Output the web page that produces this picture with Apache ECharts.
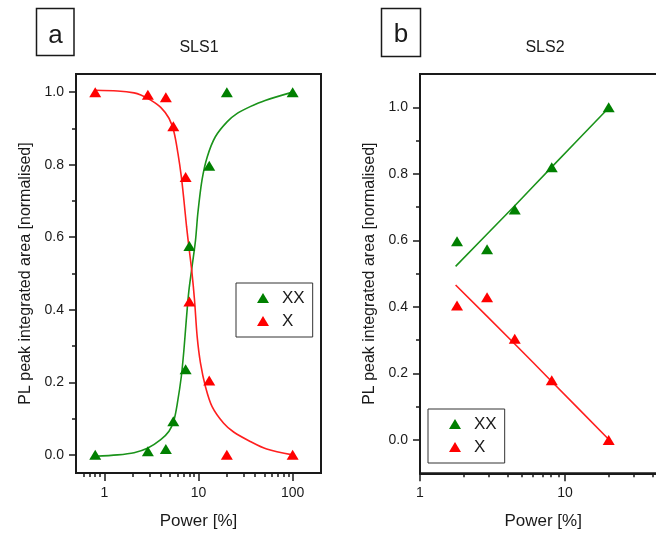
<!DOCTYPE html>
<html>
<head>
<meta charset="utf-8">
<script src="https://cdn.jsdelivr.net/npm/echarts@6/dist/echarts.min.js"></script>
<style>html,body{margin:0;padding:0;background:#fff;}#main{width:656px;height:533px;}</style>
</head>
<body>
<div id="main"></div>
<script>
// ---------- Panel a (SLS1) measured points ----------
const powerA = [0.8, 2.9, 4.5, 5.4, 7.3, 8.0, 13, 20, 100];
const xxA    = [0.0, 0.01, 0.016, 0.093, 0.236, 0.576, 0.797, 1.0, 1.0];
const xA     = [1.0, 0.993, 0.986, 0.906, 0.766, 0.423, 0.205, 0.0, 0.0];

// Panel a fitted curves
const fitXXA_power = [0.8, 1.38, 2.07, 2.87, 3.97, 4.86, 5.49, 5.96, 6.57, 7.0, 7.42, 7.9, 8.5, 9.3, 9.84, 10.9, 12.4, 15.1, 20.1, 26, 35.4, 51, 100];
const fitXXA_value = [-0.004, 0.0, 0.006, 0.018, 0.042, 0.065, 0.096, 0.142, 0.216, 0.289, 0.372, 0.452, 0.515, 0.592, 0.666, 0.758, 0.822, 0.877, 0.918, 0.942, 0.96, 0.977, 1.0];
const fitXA_power = [0.8, 1.38, 2.07, 2.44, 3.11, 3.97, 4.86, 5.49, 6.05, 6.57, 7.0, 7.47, 7.98, 8.5, 9.07, 9.68, 10.5, 11.86, 13.95, 18.5, 23.6, 35.4, 53, 100];
const fitXA_value = [1.005, 1.003, 0.998, 0.992, 0.978, 0.958, 0.928, 0.89, 0.831, 0.767, 0.702, 0.629, 0.565, 0.505, 0.427, 0.326, 0.253, 0.188, 0.133, 0.087, 0.063, 0.037, 0.016, 0.0];

// ---------- Panel b (SLS2) measured points ----------
const powerB = [1.8, 2.9, 4.5, 8.1, 20];
const xxB    = [0.597, 0.573, 0.693, 0.820, 1.0];
const xB     = [0.404, 0.429, 0.304, 0.180, 0.0];

// Panel b fitted lines
const fitB_power = [1.76, 4.52, 8.09, 20.2];
const fitXXB_value = [0.522, 0.705, 0.82, 1.0];
const fitXB_value  = [0.466, 0.288, 0.176, 0.0];

// ---------- Tick labels ----------
const xMajorA = [1, 10, 100];
const xMinorA = [0.6, 0.7, 0.8, 0.9, 2, 3, 4, 5, 6, 7, 8, 9, 20, 30, 40, 50, 60, 70, 80, 90];
const xMajorB = [1, 10];
const xMinorB = [2, 3, 4, 5, 6, 7, 8, 9, 20, 30, 40, 50];
const yMajor = [0, 0.2, 0.4, 0.6, 0.8, 1.0];
const yMinor = [0.1, 0.3, 0.5, 0.7, 0.9];

const INK = '#1a1a1a';
const GREEN = '#008000';
const RED = '#ff0000';
const GREEN_LINE = '#1a931a';
const RED_LINE = '#ff1f1f';
const FONT = 'Liberation Sans';

function pairs(xs, ys) { return xs.map((x, i) => [x, ys[i]]); }
const lg = Math.log10;

function mainX(grid, min, max, majors) {
  return {
    type: 'log', gridIndex: grid, min: min, max: max, position: 'bottom',
    axisLine: { show: true, onZero: false, lineStyle: { color: INK, width: 2 } },
    axisTick: { show: false },
    splitLine: { show: false },
    axisLabel: {
      margin: 13, fontSize: 14, fontFamily: FONT, color: INK,
      formatter: v => (majors.indexOf(Math.round(v * 1000) / 1000) >= 0 ? String(Math.round(v)) : '')
    },
    name: 'Power [%]', nameLocation: 'middle', nameGap: 40,
    nameTextStyle: { fontSize: 17, fontFamily: FONT, color: INK }
  };
}
function tickX(grid, min, max, values, len) {
  return {
    type: 'value', gridIndex: grid, min: lg(min), max: lg(max), position: 'bottom',
    axisLine: { show: false, onZero: false },
    axisLabel: { show: false },
    splitLine: { show: false },
    axisTick: { show: true, length: len, customValues: values.map(lg), lineStyle: { color: INK, width: 1.5 } }
  };
}
function mainY(grid, min, max) {
  return {
    type: 'value', gridIndex: grid, min: min, max: max, position: 'left',
    axisLine: { show: true, onZero: false, lineStyle: { color: INK, width: 2 } },
    splitLine: { show: false },
    axisTick: { show: true, length: 7, customValues: yMajor, lineStyle: { color: INK, width: 1.5 } },
    axisLabel: { customValues: yMajor, margin: 12, fontSize: 14, fontFamily: FONT, color: INK, formatter: v => v.toFixed(1) },
    name: 'PL peak integrated area [normalised]', nameLocation: 'middle', nameGap: 42,
    nameTextStyle: { fontSize: 16, fontFamily: FONT, color: INK }
  };
}
function minorY(grid, min, max) {
  return {
    type: 'value', gridIndex: grid, min: min, max: max, position: 'left',
    axisLine: { show: false, onZero: false },
    axisLabel: { show: false },
    splitLine: { show: false },
    axisTick: { show: true, length: 4, customValues: yMinor, lineStyle: { color: INK, width: 1.5 } }
  };
}
function fitLine(name, xi, yi, data, color, smooth) {
  return { type: 'line', name: name, xAxisIndex: xi, yAxisIndex: yi, data: data, smooth: smooth,
    showSymbol: false, symbol: 'none', lineStyle: { color: color, width: 1.6 }, z: 2, silent: true };
}
function points(name, xi, yi, data, color) {
  return { type: 'scatter', name: name, xAxisIndex: xi, yAxisIndex: yi, data: data,
    symbol: 'triangle', symbolSize: [12, 10], itemStyle: { color: color, opacity: 1 }, z: 3 };
}
function legend(left, top) {
  return {
    data: ['XX', 'X'], left: left, top: top, orient: 'vertical', icon: 'triangle',
    itemWidth: 12, itemHeight: 10, itemGap: 3, selectedMode: false,
    borderColor: '#333', borderWidth: 1, borderRadius: 0, padding: [5, 8, 6, 21],
    textStyle: { fontSize: 17, fontFamily: FONT, color: INK, lineHeight: 20, padding: [0, 0, 0, 8] }
  };
}

const chart = echarts.init(document.getElementById('main'), null, { renderer: 'canvas' });
chart.setOption({
  animation: false,
  backgroundColor: '#fff',
  grid: [
    { left: 76, top: 74, width: 245, height: 399, show: true, borderColor: INK, borderWidth: 2, containLabel: false, outerBoundsMode: 'none' },
    { left: 420, top: 74, width: 246.4, height: 399.3, show: true, borderColor: INK, borderWidth: 2, containLabel: false, outerBoundsMode: 'none' }
  ],
  xAxis: [
    mainX(0, 0.5, 200, xMajorA),
    tickX(0, 0.5, 200, xMajorA, 8),
    tickX(0, 0.5, 200, xMinorA, 4),
    mainX(1, 1, 50, xMajorB),
    tickX(1, 1, 50, xMajorB, 8),
    tickX(1, 1, 50, xMinorB, 4)
  ],
  yAxis: [
    mainY(0, -0.05, 1.05),
    minorY(0, -0.05, 1.05),
    mainY(1, -0.1, 1.1),
    minorY(1, -0.1, 1.1)
  ],
  legend: [legend(236, 283), legend(428, 409)],
  series: [
    fitLine('XX fit a', 0, 0, pairs(fitXXA_power, fitXXA_value), GREEN_LINE, 0.3),
    fitLine('X fit a', 0, 0, pairs(fitXA_power, fitXA_value), RED_LINE, 0.3),
    points('XX', 0, 0, pairs(powerA, xxA), GREEN),
    points('X', 0, 0, pairs(powerA, xA), RED),
    fitLine('XX fit b', 3, 2, pairs(fitB_power, fitXXB_value), GREEN_LINE, 0.2),
    fitLine('X fit b', 3, 2, pairs(fitB_power, fitXB_value), RED_LINE, 0.2),
    points('XX', 3, 2, pairs(powerB, xxB), GREEN),
    points('X', 3, 2, pairs(powerB, xB), RED)
  ],
  graphic: [
    { type: 'rect', shape: { x: 36.5, y: 8.5, width: 37.5, height: 47 }, style: { fill: '#fff', stroke: INK, lineWidth: 1.5 } },
    { type: 'text', x: 55.5, y: 35.5, style: { text: 'a', font: '26px "Liberation Sans"', fill: INK, align: 'center', verticalAlign: 'middle' } },
    { type: 'rect', shape: { x: 381.5, y: 8.5, width: 39, height: 48 }, style: { fill: '#fff', stroke: INK, lineWidth: 1.5 } },
    { type: 'text', x: 401, y: 34.5, style: { text: 'b', font: '26px "Liberation Sans"', fill: INK, align: 'center', verticalAlign: 'middle' } },
    { type: 'text', x: 199, y: 47.5, style: { text: 'SLS1', font: '16px "Liberation Sans"', fill: INK, align: 'center', verticalAlign: 'middle' } },
    { type: 'text', x: 545, y: 47.5, style: { text: 'SLS2', font: '16px "Liberation Sans"', fill: INK, align: 'center', verticalAlign: 'middle' } }
  ]
});
</script>
</body>
</html>
